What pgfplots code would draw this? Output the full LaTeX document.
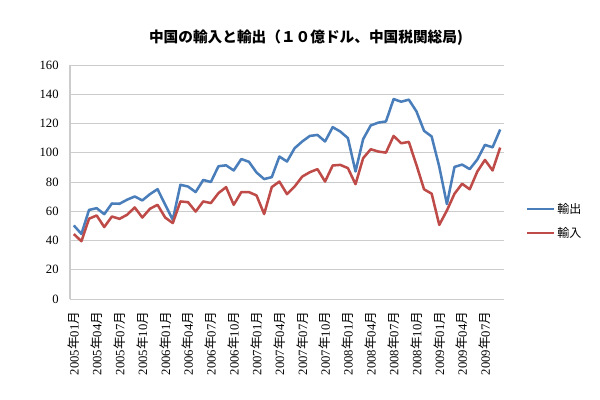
\documentclass[border=0pt]{standalone}
\usepackage{fontspec}
\setmainfont{Liberation Serif}
\newfontfamily\cjk{Noto Sans CJK JP}
\usepackage{pgfplots}
\pgfplotsset{compat=1.18}
\usepackage{pgfplotstable}
\definecolor{expblue}{HTML}{4A7EBB}
\definecolor{impred}{HTML}{BE4B48}
\newcommand{\nen}{{\cjk 年}}
\newcommand{\tsuki}{{\cjk 月}}
\pgfplotstableread{
i exp imp
0 50.3 44.4
1 44.5 39.5
2 60.9 54.9
3 62.1 57.1
4 58.0 49.2
5 65.3 56.4
6 65.1 54.8
7 67.9 57.6
8 70.1 62.6
9 67.4 55.7
10 71.7 61.7
11 75.1 64.4
12 64.5 55.7
13 54.2 51.9
14 78.1 66.7
15 76.9 66.2
16 73.1 59.8
17 81.4 66.7
18 80.0 65.6
19 90.8 72.4
20 91.4 76.5
21 87.9 64.4
22 95.7 73.1
23 93.8 73.1
24 86.5 70.8
25 82.0 58.1
26 83.3 76.5
27 97.4 80.3
28 94.0 71.7
29 103.1 76.9
30 107.7 83.7
31 111.5 86.7
32 112.2 88.8
33 107.7 80.3
34 117.5 91.3
35 114.5 91.7
36 110.0 89.5
37 87.2 78.5
38 109.3 96.3
39 118.7 102.4
40 120.6 100.8
41 121.4 100.1
42 136.7 111.5
43 134.9 106.5
44 136.3 107.4
45 128.3 91.7
46 115.0 75.0
47 111.1 72.0
48 90.4 50.7
49 64.9 60.5
50 90.3 72.0
51 91.9 78.8
52 88.8 75.0
53 95.4 87.2
54 105.4 95.1
55 103.7 87.9
56 115.9 103.5
}\trade
\begin{document}
\begin{tikzpicture}
\path (0,0) rectangle (450pt,300pt);
\node[font=\cjk\bfseries\fontsize{11}{13}\selectfont] at (229.5pt,271.5pt) {中国の輸入と輸出（１０億ドル、中国税関総局)};
\begin{axis}[
  at={(52.5pt,75.75pt)}, anchor=south west,
  width=325.5pt, height=175.5pt, scale only axis,
  xmin=-0.5, xmax=56.5, ymin=0, ymax=160,
  ytick={0,20,...,160},
  xtick={0,3,...,54},
  xticklabels={2005\nen01\tsuki,2005\nen04\tsuki,2005\nen07\tsuki,2005\nen10\tsuki,
    2006\nen01\tsuki,2006\nen04\tsuki,2006\nen07\tsuki,2006\nen10\tsuki,
    2007\nen01\tsuki,2007\nen04\tsuki,2007\nen07\tsuki,2007\nen10\tsuki,
    2008\nen01\tsuki,2008\nen04\tsuki,2008\nen07\tsuki,2008\nen10\tsuki,
    2009\nen01\tsuki,2009\nen04\tsuki,2009\nen07\tsuki},
  x tick label style={rotate=90, anchor=east, font=\fontsize{9.5}{10}\selectfont},
  xticklabel shift=6pt,
  y tick label style={font=\fontsize{9.5}{10}\selectfont},
  yticklabel shift=5pt,
  /pgf/number format/assume math mode=true,
  major tick length=0pt,
  ymajorgrids, grid style={gray!40, line width=0.75pt},
  axis x line*=bottom, axis y line*=left,
  axis line style={gray!40, line width=0.75pt, -},
  legend style={at={(1.04,0.333)}, anchor=west, draw=none, fill=none,
    font=\cjk\fontsize{9}{11}\selectfont, row sep=5pt},
  legend cell align=left,
  legend image code/.code={\draw[#1] (0,0) -- (20pt,0);},
]
\addplot[expblue, line width=1.9pt, line join=round] table[x=i,y=exp]{\trade};
\addlegendentry{輸出}
\addplot[impred, line width=1.9pt, line join=round] table[x=i,y=imp]{\trade};
\addlegendentry{輸入}
\end{axis}
\end{tikzpicture}
\end{document}
